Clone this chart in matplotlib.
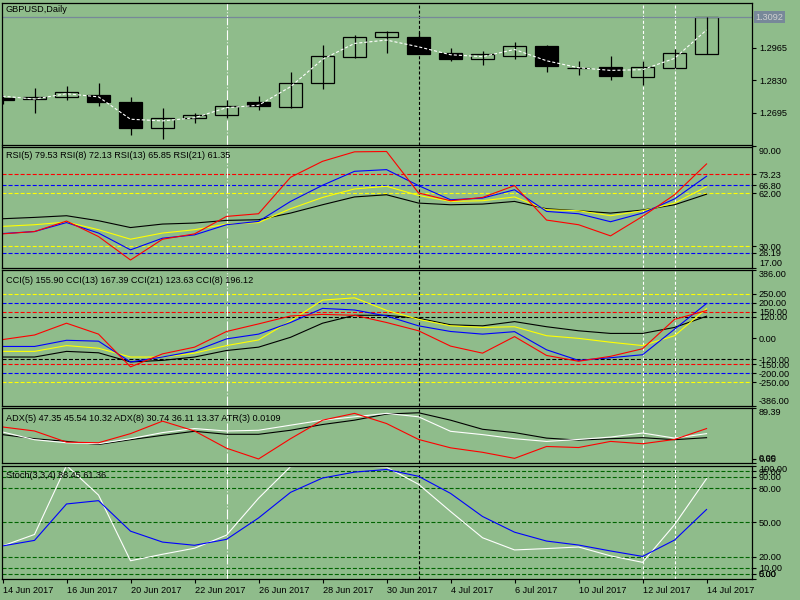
import matplotlib
matplotlib.use('Agg')
import matplotlib.pyplot as plt
import matplotlib.transforms as mtransforms
import numpy as np

plt.rcParams['font.family'] = ['Liberation Sans', 'DejaVu Sans']
plt.rcParams['font.size'] = 6.6
plt.rcParams['lines.scale_dashes'] = False

BG = '#8FBC8B'

# ---- data ----
dates = ['14 Jun 2017', '15 Jun 2017', '16 Jun 2017', '19 Jun 2017', '20 Jun 2017',
         '21 Jun 2017', '22 Jun 2017', '23 Jun 2017', '26 Jun 2017', '27 Jun 2017',
         '28 Jun 2017', '29 Jun 2017', '30 Jun 2017', '3 Jul 2017', '4 Jul 2017',
         '5 Jul 2017', '6 Jul 2017', '7 Jul 2017', '10 Jul 2017', '11 Jul 2017',
         '12 Jul 2017', '13 Jul 2017', '14 Jul 2017']

opens = [1.2757, 1.2751, 1.2759, 1.2769, 1.2739, 1.2630, 1.2672, 1.2684, 1.2739, 1.2720,
         1.2817, 1.2928, 1.3008, 1.3009, 1.2943, 1.2919, 1.2932, 1.2972, 1.2882, 1.2885,
         1.2845, 1.2882, 1.2938]
highs = [1.2770, 1.2796, 1.2806, 1.2818, 1.2760, 1.2715, 1.2694, 1.2748, 1.2764, 1.2864,
         1.2976, 1.3019, 1.3036, 1.3030, 1.2963, 1.2951, 1.2989, 1.2976, 1.2910, 1.2932,
         1.2910, 1.2960, 1.3092]
lows = [1.2730, 1.2693, 1.2748, 1.2723, 1.2602, 1.2587, 1.2653, 1.2674, 1.2706, 1.2716,
        1.2793, 1.2923, 1.2944, 1.2940, 1.2911, 1.2893, 1.2918, 1.2865, 1.2852, 1.2831,
        1.2810, 1.2882, 1.2938]
closes = [1.2749, 1.2759, 1.2780, 1.2738, 1.2630, 1.2673, 1.2685, 1.2722, 1.2724, 1.2818,
          1.2929, 1.3008, 1.3030, 1.2940, 1.2919, 1.2939, 1.2972, 1.2890, 1.2881, 1.2847,
          1.2885, 1.2943, 1.3092]
ma = [1.2764, 1.2752, 1.2774, 1.2761, 1.2668, 1.2661, 1.2674, 1.2716, 1.2726, 1.2803,
      1.2917, 1.2983, 1.2997, 1.2969, 1.2936, 1.2928, 1.2958, 1.2911, 1.2882, 1.2871,
      1.2874, 1.2921, 1.3039]
last_price = 1.3092

rsi5 = [37.5, 38.9, 45.2, 35.9, 21.8, 34.3, 37.5, 48.0, 49.6, 71.5, 81.1, 86.8, 87.0,
        62.1, 57.4, 59.4, 66.5, 45.8, 43.0, 36.3, 48.0, 61.0, 79.53]
rsi8 = [37.7, 38.9, 44.3, 38.0, 27.9, 34.9, 36.9, 43.0, 45.0, 57.0, 66.7, 75.1, 76.1,
        66.5, 58.0, 59.0, 64.0, 51.0, 49.6, 44.8, 50.0, 58.5, 72.13]
rsi13 = [42.0, 43.0, 44.6, 40.0, 34.3, 38.0, 40.0, 43.4, 44.3, 52.6, 59.4, 64.5, 66.1,
         60.6, 57.0, 57.4, 59.7, 52.0, 51.4, 48.4, 51.4, 56.0, 65.85]
rsi21 = [46.6, 47.4, 48.4, 45.4, 41.3, 43.4, 44.0, 45.6, 46.0, 50.0, 55.0, 59.7, 61.0,
         56.0, 55.0, 55.4, 57.0, 52.6, 51.4, 50.0, 51.8, 55.0, 61.35]

cci5 = [-9, 17, 84, 22, -164, -90, -52, 37, 80, 125, 134, 129, 88, 41, -46, -86, 8,
        -99, -132, -104, -61, 106, 155.90]
cci8 = [-48, -48, -13, -18, -136, -108, -74, -5, 22, 88, 168, 159, 125, 69, 37, 22, 36,
        -67, -127, -112, -95, 50, 196.12]
cci13 = [-76, -76, -43, -58, -108, -108, -86, -43, -11, 97, 215, 228, 157, 106, 69, 60,
         64, 13, -2, -24, -43, 13, 167.39]
cci21 = [-108, -108, -76, -84, -136, -127, -108, -71, -52, 4, 84, 129, 129, 112, 75, 69,
         93, 64, 41, 26, 26, 60, 123.63]

adx_red = [58.4, 51.8, 33.6, 32.6, 47.5, 67.9, 51.8, 23.7, 6.1, 39.2, 69.5, 80.6, 64.0,
           38.0, 24.3, 17.0, 7.1, 26.5, 24.8, 34.8, 31.0, 38.0, 55.8]
adx_white = [50.2, 37.6, 32.6, 31.0, 39.2, 49.2, 55.8, 51.8, 53.0, 61.3, 69.5, 75.0, 80.6,
             75.0, 51.3, 45.9, 39.2, 34.8, 38.0, 41.9, 48.5, 40.2, 47.5]
adx_black = [45.9, 39.2, 34.8, 29.8, 37.6, 44.7, 51.3, 46.4, 46.4, 53.0, 62.4, 69.5, 79.5,
             81.6, 69.5, 54.6, 49.2, 40.2, 36.9, 39.2, 40.9, 37.6, 40.9]

stoch_main = [29.3, 39.4, 100.0, 74.0, 16.3, 22.0, 27.3, 38.8, 71.2, 99.0, 100.0, 100.0,
              98.5, 83.5, 59.6, 36.5, 25.8, 27.0, 28.4, 20.6, 14.9, 48.0, 88.45]
stoch_signal = [29.3, 34.2, 66.2, 69.1, 42.3, 32.7, 29.9, 35.1, 53.9, 76.4, 89.0, 94.2,
                96.5, 90.5, 75.5, 55.2, 41.4, 33.6, 30.1, 24.9, 20.1, 34.5, 61.36]

rsi_levels = [(73.23, 'red'), (66.80, 'blue'), (62.00, 'yellow'), (30.00, 'yellow'), (26.19, 'blue')]
cci_levels = [(250, 'yellow'), (200, 'blue'), (150, 'red'), (120, 'black'),
              (-120, 'black'), (-150, 'red'), (-200, 'blue'), (-250, 'yellow')]
stoch_levels = [95, 90, 80, 50, 20, 10, 5]

vl_dashdot = [7]          # 23 Jun
vl_black = [13]           # 3 Jul
vl_white = [20, 21]       # 12 / 13 Jul

x = np.arange(len(dates))

fig = plt.figure(figsize=(8, 6), dpi=100, facecolor=BG)


def panel(top, bottom):
    ax = fig.add_axes([2 / 800, 1 - bottom / 600, 750 / 800, (bottom - top) / 600])
    ax.set_facecolor(BG)
    for s in ax.spines.values():
        s.set_linewidth(0.9)
        s.set_color('black')
    ax.set_xlim(-0.016, 23.42)
    ax.set_xticks([])
    return ax


def right_ticks(ax, ticks, labels, top=None, bottom=None):
    ax.yaxis.tick_right()
    ax.set_yticks(ticks)
    ax.set_yticklabels(labels)
    ax.tick_params(axis='y', direction='out', length=3, width=0.8, pad=2,
                   labelsize=6.6, colors='black')
    for t, lab in zip(ticks, ax.get_yticklabels()):
        if t == top:
            lab.set_va('top')
        elif t == bottom:
            lab.set_va('bottom')


def vlines(ax):
    for v in vl_dashdot:
        ax.axvline(v, color='white', lw=0.8, linestyle=(0, (7.2, 1.45, 0.72, 1.45)))
    for v in vl_black:
        ax.axvline(v, color='black', lw=0.8, linestyle=(0, (2.2, 1.45)))
    for v in vl_white:
        ax.axvline(v, color='white', lw=0.8, linestyle=(0, (2.2, 1.45)))


dash = (0, (2.9, 1.45))

# ---- price panel ----
ax0 = panel(3, 144.5)
ax0.set_ylim(1.2563, 1.3151)
vlines(ax0)
ax0.axhline(last_price, color='#778899', lw=0.9)
ax0.vlines(x, lows, highs, color='black', lw=0.9)
o = np.array(opens)
c = np.array(closes)
up = c >= o
ax0.bar(x[up], (c - o)[up], bottom=o[up], width=0.7, facecolor=BG,
        edgecolor='black', linewidth=0.9)
ax0.bar(x[~up], (o - c)[~up], bottom=c[~up], width=0.7, facecolor='black',
        edgecolor='black', linewidth=0.9)
ax0.plot(x, ma, color='white', lw=0.8, linestyle=(0, (2.2, 1.45)))
right_ticks(ax0, [1.2965, 1.2830, 1.2695], ['1.2965', '1.2830', '1.2695'])
trans = mtransforms.blended_transform_factory(ax0.transAxes, ax0.transData)
ax0.text(1.005, last_price, '%.4f' % last_price, transform=trans, ha='left', va='center',
         fontsize=6.6, color='#D0D0D0', clip_on=False,
         bbox=dict(facecolor='#778899', edgecolor='none', pad=1.2))

# ---- RSI ----
ax1 = panel(146.5, 268)
ax1.set_ylim(17, 90)
for lv, col in rsi_levels:
    ax1.axhline(lv, color=col, lw=0.8, linestyle=dash)
vlines(ax1)
ax1.plot(x, rsi21, color='black', lw=0.8)
ax1.plot(x, rsi13, color='yellow', lw=0.8)
ax1.plot(x, rsi8, color='blue', lw=0.8)
ax1.plot(x, rsi5, color='red', lw=0.8)
rsi_ticks = [90, 73.23, 66.80, 62.00, 30.00, 26.19, 17]
right_ticks(ax1, rsi_ticks, ['%.2f' % t for t in rsi_ticks], top=90, bottom=17)

# ---- CCI ----
ax2 = panel(270, 406)
ax2.set_ylim(-386, 386)
for lv, col in cci_levels:
    ax2.axhline(lv, color=col, lw=0.8, linestyle=dash)
vlines(ax2)
ax2.plot(x, cci21, color='black', lw=0.8)
ax2.plot(x, cci13, color='yellow', lw=0.8)
ax2.plot(x, cci8, color='blue', lw=0.8)
ax2.plot(x, cci5, color='red', lw=0.8)
cci_ticks = [386, 250, 200, 150, 120, 0, -120, -150, -200, -250, -386]
right_ticks(ax2, cci_ticks, ['%.2f' % t for t in cci_ticks], top=386, bottom=-386)

# ---- ADX ----
ax3 = panel(408, 462.7)
ax3.set_ylim(0, 89.39)
vlines(ax3)
ax3.plot(x, adx_black, color='black', lw=0.8)
ax3.plot(x, adx_white, color='white', lw=0.8)
ax3.plot(x, adx_red, color='red', lw=0.8)
right_ticks(ax3, [89.39, 6.65, 0], ['89.39', '6.65', '0.00'], top=89.39, bottom=0)

# ---- Stochastic ----
ax4 = panel(465.5, 579.3)
ax4.set_ylim(0, 100)
for lv in stoch_levels:
    ax4.axhline(lv, color='#006400', lw=0.8, linestyle=dash)
vlines(ax4)
ax4.plot(x, stoch_main, color='white', lw=0.8)
ax4.plot(x, stoch_signal, color='blue', lw=0.8)
st_ticks = [100, 95, 90, 80, 50, 20, 10, 5, 0]
right_ticks(ax4, st_ticks, ['%.2f' % t for t in st_ticks], top=100, bottom=0)
ax4.set_xticks(x[::2])
ax4.set_xticklabels(dates[::2], ha='left')
ax4.tick_params(axis='x', direction='out', length=3, width=0.8, pad=2,
                labelsize=6.6, colors='black')

# ---- panel captions ----
caps = [('GBPUSD,Daily', 9.5),
        ('RSI(5) 79.53 RSI(8) 72.13 RSI(13) 65.85 RSI(21) 61.35', 155.7),
        ('CCI(5) 155.90 CCI(13) 167.39 CCI(21) 123.63 CCI(8) 196.12', 280.3),
        ('ADX(5) 47.35 45.54 10.32 ADX(8) 30.74 36.11 13.37 ATR(3) 0.0109', 418.3),
        ('Stoch(3,3,4) 88.45 61.36', 475)]
for s, yp in caps:
    fig.text(6 / 800, 1 - yp / 600, s, ha='left', va='center', fontsize=6.6, color='black')

fig.savefig('out.png', dpi=100, facecolor=BG)
